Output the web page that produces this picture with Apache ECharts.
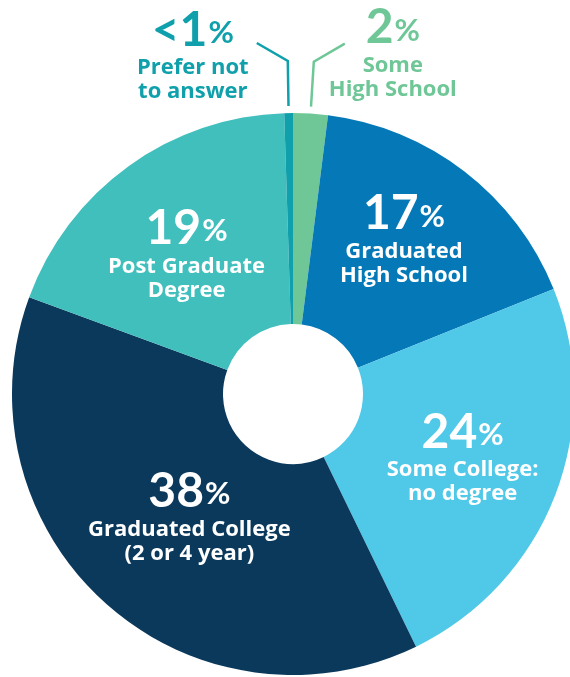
<!DOCTYPE html>
<html>
<head>
<meta charset="utf-8">
<script src="https://cdn.jsdelivr.net/npm/echarts@6/dist/echarts.min.js"></script>
<style>
html,body{margin:0;padding:0;background:#fff;}
#chart{width:570px;height:677px;}
</style>
</head>
<body>
<div id="chart"></div>
<script>
// ---- data ----
const categories = ['Some High School', 'Graduated High School', 'Some College: no degree', 'Graduated College (2 or 4 year)', 'Post Graduate Degree', 'Prefer not to answer'];
const values = [2, 17, 24, 38, 19, 0.5];
const pctLabels = ['2', '17', '24', '38', '19', '<1'];
const labelLine1 = ['Some', 'Graduated', 'Some College:', 'Graduated College', 'Post Graduate', 'Prefer not'];
const labelLine2 = ['High School', 'High School', 'no degree', '(2 or 4 year)', 'Degree', 'to answer'];

// ---- styles ----
const colors = ['#6fc797', '#0579b7', '#50c8e8', '#0b395c', '#41bfbd', '#0fa0ab'];
const outside = [true, false, false, false, false, true];
const insideOffsets = [[0, 0], [2, -15], [3, -2], [16, -11], [-2, 3], [0, 0]];

const NUMFONT = 'Lato, "Open Sans", sans-serif';
const TXTFONT = '"Open Sans", Lato, sans-serif';

function richFor(color) {
  return {
    n: { fontFamily: NUMFONT, fontWeight: 700, fontSize: 48, lineHeight: 52, color: color },
    p: { fontFamily: NUMFONT, fontWeight: 700, fontSize: 31, lineHeight: 52, color: color, padding: [6, 0, 0, 1] },
    t: { fontFamily: TXTFONT, fontWeight: 700, fontSize: 22, lineHeight: 24, color: color }
  };
}

const data = categories.map((name, i) => {
  const item = {
    name: name,
    value: values[i],
    itemStyle: { color: colors[i] }
  };
  const fmt = '{n|' + pctLabels[i] + '}{p|%}\n{t|' + labelLine1[i] + '}\n{t|' + labelLine2[i] + '}';
  if (outside[i]) {
    item.label = {
      show: true,
      position: 'outside',
      formatter: fmt,
      align: 'center',
      rich: richFor(colors[i])
    };
    item.labelLine = {
      show: true,
      length: 52,
      length2: 20,
      lineStyle: { color: colors[i], width: 2.5 }
    };
  } else {
    item.label = {
      show: true,
      position: 'inside',
      formatter: fmt,
      align: 'center',
      offset: insideOffsets[i],
      rich: richFor('#ffffff')
    };
    item.labelLine = { show: false };
  }
  return item;
});

const chart = echarts.init(document.getElementById('chart'), null, { renderer: 'canvas' });
chart.setOption({
  animation: false,
  series: [{
    type: 'pie',
    center: [293, 394],
    radius: [70, 281],
    startAngle: 90,
    clockwise: true,
    avoidLabelOverlap: false,
    silent: true,
    emphasis: { disabled: true },
    itemStyle: { borderWidth: 0 },
    data: data,
    labelLayout: function (params) {
      const i = params.dataIndex;
      if (!outside[i] || !params.labelLinePoints) return {};
      const pts = params.labelLinePoints;
      const p0 = pts[0], p1 = pts[1];
      const dx = p1[0] - p0[0], dy = p1[1] - p0[1];
      const len = Math.sqrt(dx * dx + dy * dy) || 1;
      const gap = 7;
      const s0 = [p0[0] + dx / len * gap, p0[1] + dy / len * gap];
      const side = (i === 5) ? -1 : 1;
      const p2 = [p1[0] + side * 31, p1[1] - 18];
      return {
        labelLinePoints: [s0, p1, p2],
        x: p2[0] + (side < 0 ? -64 : 48),
        y: p2[1] + (side < 0 ? 11 : 8),
        align: 'center',
        verticalAlign: 'middle'
      };
    }
  }]
});
</script>
</body>
</html>
